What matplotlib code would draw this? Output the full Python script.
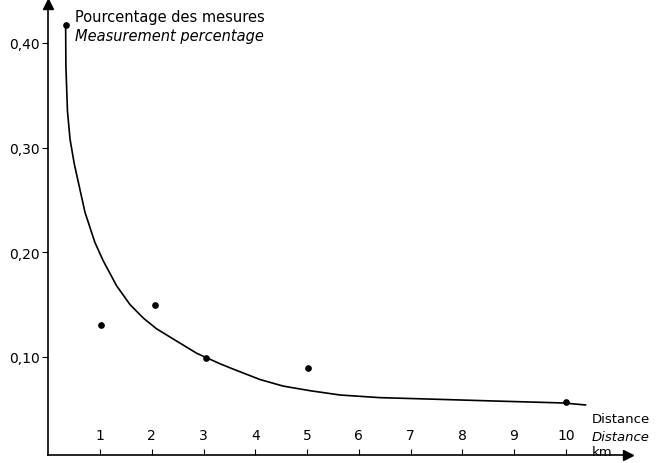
import matplotlib
matplotlib.use("Agg")
import matplotlib.pyplot as plt

# Measured points: distance (km) vs share of measurements
dist_pts = [0.335, 1.02, 2.06, 3.05, 5.02, 10.0]
share_pts = [0.417, 0.131, 0.150, 0.099, 0.0895, 0.057]

# Hand-fitted trend curve
curve_x = [0.335, 0.34, 0.37, 0.42, 0.50, 0.58, 0.71, 0.90, 1.06, 1.32, 1.58,
           1.84, 2.09, 2.48, 2.87, 3.32, 3.57, 4.09, 4.54, 5.06, 5.64, 6.40,
           7.38, 8.60, 9.95, 10.38]
curve_y = [0.417, 0.378, 0.335, 0.308, 0.285, 0.267, 0.238, 0.2095, 0.192, 0.168, 0.150,
           0.137, 0.127, 0.1152, 0.1035, 0.0935, 0.0885, 0.0785, 0.0722, 0.0678, 0.0637, 0.0612,
           0.0598, 0.0580, 0.0561, 0.0542]

x_ticks = [1, 2, 3, 4, 5, 6, 7, 8, 9, 10]
y_ticks = [0.10, 0.20, 0.30, 0.40]
y_tick_labels = ["0,10", "0,20", "0,30", "0,40"]

title_fr = "Pourcentage des mesures"
title_en = "Measurement percentage"
xlabel_fr = "Distance"
xlabel_en = "Distance"
x_unit = "km"

plt.rcParams["font.family"] = ["DejaVu Sans"]

fig = plt.figure(figsize=(6.57, 4.64), dpi=100)
W, H = 657.0, 464.0
x0_px, xu_px = 48.3, 51.75          # pixel of x=0 and pixels per km
y0_px, yu_px = 462.7, 1047.0        # pixel of y=0 and pixels per unit
xmin, xmax = 0.0, 11.2
ymin, ymax = 0.0064, 0.437
left = (x0_px + xmin * xu_px) / W
width = (xmax - xmin) * xu_px / W
bottom = (H - (y0_px - ymin * yu_px)) / H
height = (ymax - ymin) * yu_px / H
ax = fig.add_axes([left, bottom, width, height])
ax.set_xlim(xmin, xmax)
ax.set_ylim(ymin, ymax)

for s in ["top", "right"]:
    ax.spines[s].set_visible(False)
for s in ["left", "bottom"]:
    ax.spines[s].set_linewidth(1.2)

# arrowheads at the ends of both axes
ax.plot(1, 0, marker=">", color="black", markersize=7, transform=ax.transAxes, clip_on=False)
ax.plot(0, 1, marker="^", color="black", markersize=7, transform=ax.transAxes, clip_on=False)

ax.plot(curve_x, curve_y, color="black", linewidth=1.2, solid_joinstyle="round")
ax.plot(dist_pts, share_pts, linestyle="none", marker="o", color="black", markersize=3.8)

ax.set_yticks(y_ticks)
ax.set_yticklabels(y_tick_labels)
ax.tick_params(axis="y", direction="out", length=4, width=0.8, labelsize=10, pad=2)

# x ticks point inward, labels sit above the axis
ax.set_xticks(x_ticks)
ax.set_xticklabels([])
ax.tick_params(axis="x", direction="in", length=4, width=0.8)
for t in x_ticks:
    ax.text(t, 0.019, str(t), ha="center", va="bottom", fontsize=10)

ax.text(0.52, 0.425, title_fr, ha="left", va="center", fontsize=10.5)
ax.text(0.52, 0.407, title_en, ha="left", va="center", fontsize=10.5, style="italic")

ax.text(10.5, 0.0408, xlabel_fr, ha="left", va="center", fontsize=9.5, clip_on=False)
ax.text(10.5, 0.0245, xlabel_en, ha="left", va="center", fontsize=9.5, style="italic", clip_on=False)
ax.text(10.5, 0.0093, x_unit, ha="left", va="center", fontsize=9.5, clip_on=False)

fig.savefig("out.png", dpi=100)
